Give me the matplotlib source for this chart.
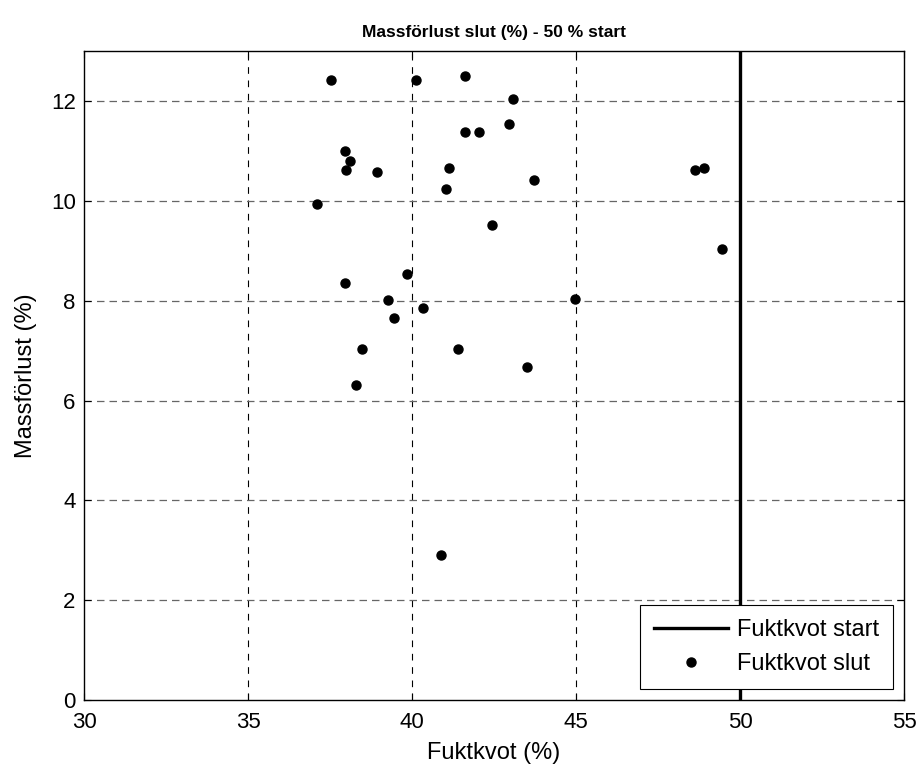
import matplotlib.pyplot as plt

plt.rcParams['font.family'] = ['Liberation Sans', 'DejaVu Sans']

# Fuktkvot slut (%) and Massförlust (%)
fuktkvot_slut = [37.54, 40.13, 41.63, 43.07, 42.96, 41.63, 42.03, 37.95, 38.12,
                 38.00, 38.93, 41.12, 43.71, 41.05, 37.09, 42.44, 39.85, 37.95,
                 39.27, 44.98, 40.35, 39.45, 38.48, 41.40, 43.52, 38.30, 40.88,
                 49.46, 48.64, 48.89]
massforlust = [12.42, 12.42, 12.50, 12.04, 11.54, 11.39, 11.39, 11.01, 10.81,
               10.62, 10.58, 10.66, 10.43, 10.24, 9.94, 9.52, 8.54, 8.35,
               8.01, 8.04, 7.86, 7.66, 7.03, 7.03, 6.68, 6.31, 2.90,
               9.03, 10.62, 10.66]
fuktkvot_start = 50

fig = plt.figure(figsize=(9.2, 7.65), dpi=100)
ax = fig.add_axes([0.0913, 0.085, 0.8913, 0.848])

ax.set_xlim(30, 55)
ax.set_ylim(0, 13)
ax.set_xticks([30, 35, 40, 45, 50, 55])
ax.set_yticks([0, 2, 4, 6, 8, 10, 12])

for xv in [35, 40, 45]:
    ax.axvline(xv, color='black', lw=0.8, ls=(0, (6, 6)), zorder=1)
for yv in [2, 4, 6, 8, 10, 12]:
    ax.axhline(yv, color='#666666', lw=0.9, ls=(0, (6, 4)), zorder=1)

ax.axvline(fuktkvot_start, color='black', lw=2.4, label='Fuktkvot start', zorder=2)
ax.plot(fuktkvot_slut, massforlust, 'o', color='black', ms=6.5, ls='none',
        label='Fuktkvot slut', zorder=3)

ax.tick_params(direction='in', labelsize=16, length=5, width=0.8, top=True, right=True)
ax.tick_params(axis='x', pad=9)
ax.tick_params(axis='y', pad=6)
for s in ax.spines.values():
    s.set_linewidth(1.0)

ax.set_xlabel('Fuktkvot (%)', fontsize=17, labelpad=6)
ax.set_ylabel('Massförlust (%)', fontsize=17, labelpad=10)
ax.set_title('Massförlust slut (%) - 50 % start', fontsize=12.5, fontweight='bold', pad=10)

leg = ax.legend(loc='lower right', fontsize=17, frameon=True, fancybox=False,
                edgecolor='black', framealpha=1, handlelength=3.1,
                handletextpad=0.4, borderaxespad=0.45, labelspacing=0.5,
                borderpad=0.6)
leg.get_frame().set_linewidth(0.8)

fig.savefig('out.png', dpi=100)
